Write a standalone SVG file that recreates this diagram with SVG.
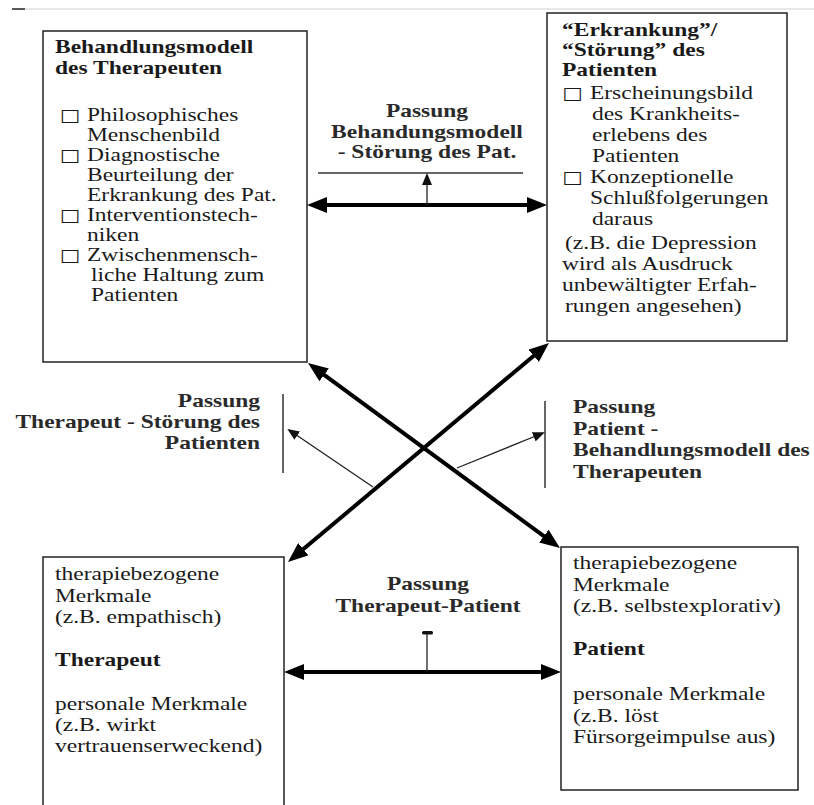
<svg xmlns="http://www.w3.org/2000/svg" width="814" height="805" viewBox="0 0 814 805">
<style>
.t{font-family:"Liberation Serif","Times New Roman",serif;font-size:18.5px;fill:#1a1a1a}
.b{font-weight:bold}
.lbl{font-family:"Liberation Serif","Times New Roman",serif;font-size:18.5px;font-weight:bold;fill:#2a2a2a}
.bul{font-family:"DejaVu Sans",sans-serif;font-size:17px;fill:#1a1a1a}
.box{fill:#fff;stroke:#222;stroke-width:1.5}
.thick{stroke:#000;stroke-width:4;fill:none}
.thin{stroke:#222;stroke-width:1.3;fill:none}
.rule{stroke:#333;stroke-width:1.5;fill:none}
</style>
<defs>
<marker id="big" viewBox="0 0 20 16" markerWidth="20" markerHeight="16" refX="8" refY="8" orient="auto-start-reverse" markerUnits="userSpaceOnUse">
<path d="M0,0 L20,8 L0,16 z" fill="#000"/>
</marker>
<marker id="small" viewBox="0 0 12 10" markerWidth="12" markerHeight="10" refX="10" refY="5" orient="auto" markerUnits="userSpaceOnUse">
<path d="M0,0 L12,5 L0,10 z" fill="#111"/>
</marker>
</defs>
<rect width="814" height="805" fill="#fff"/>
<line x1="25" y1="9" x2="814" y2="9" stroke="#d0d0d0" stroke-width="1"/>
<line x1="12" y1="9" x2="25" y2="9" stroke="#222" stroke-width="1.5"/>

<g id="node-behandlungsmodell">
<rect class="box" x="43" y="31" width="264" height="331"/>
<g transform="translate(55,0) scale(1.27,1)">
<text class="t b" x="0" y="53">Behandlungsmodell</text>
<text class="t b" x="0" y="74">des Therapeuten</text>
<text class="bul" x="3.5" y="121">□</text>
<text class="t" x="25.2" y="121">Philosophisches</text>
<text class="t" x="25.2" y="141">Menschenbild</text>
<text class="bul" x="3.5" y="161">□</text>
<text class="t" x="25.2" y="161">Diagnostische</text>
<text class="t" x="25.2" y="181">Beurteilung der</text>
<text class="t" x="25.2" y="201">Erkrankung des Pat.</text>
<text class="bul" x="3.5" y="221">□</text>
<text class="t" x="25.2" y="221">Interventionstech-</text>
<text class="t" x="25.2" y="241">niken</text>
<text class="bul" x="3.5" y="261">□</text>
<text class="t" x="25.2" y="261">Zwischenmensch-</text>
<text class="t" x="28.3" y="281">liche Haltung zum</text>
<text class="t" x="28.3" y="301">Patienten</text>
</g>
</g>

<g id="node-stoerung">
<rect class="box" x="547" y="13" width="240" height="328"/>
<g transform="translate(562,0) scale(1.27,1)">
<text class="t b" x="0" y="36">“Erkrankung”/</text>
<text class="t b" x="0" y="56">“Störung” des</text>
<text class="t b" x="0" y="76">Patienten</text>
<text class="bul" x="0" y="99">□</text>
<text class="t" x="22" y="99">Erscheinungsbild</text>
<text class="t" x="23.6" y="120">des Krankheits-</text>
<text class="t" x="23.6" y="141">erlebens des</text>
<text class="t" x="23.6" y="162">Patienten</text>
<text class="bul" x="0" y="183">□</text>
<text class="t" x="22" y="183">Konzeptionelle</text>
<text class="t" x="22" y="204">Schlußfolgerungen</text>
<text class="t" x="23.6" y="225">daraus</text>
<text class="t" x="2.4" y="249">(z.B. die Depression</text>
<text class="t" x="0" y="270">wird als Ausdruck</text>
<text class="t" x="0" y="291">unbewältigter Erfah-</text>
<text class="t" x="2.4" y="312">rungen angesehen)</text>
</g>
</g>

<g id="node-therapeut">
<path class="box" d="M43,810 L43,557 L284,557 L284,810"/>
<g transform="translate(55,0) scale(1.27,1)">
<text class="t" x="0" y="580">therapiebezogene</text>
<text class="t" x="0" y="602">Merkmale</text>
<text class="t" x="0" y="623">(z.B. empathisch)</text>
<text class="t b" x="0" y="666">Therapeut</text>
<text class="t" x="0" y="710">personale Merkmale</text>
<text class="t" x="0" y="731">(z.B. wirkt</text>
<text class="t" x="0" y="752">vertrauenserweckend)</text>
</g>
</g>

<g id="node-patient">
<rect class="box" x="561" y="547" width="237" height="243"/>
<g transform="translate(573,0) scale(1.27,1)">
<text class="t" x="0" y="569">therapiebezogene</text>
<text class="t" x="0" y="591">Merkmale</text>
<text class="t" x="0" y="612">(z.B. selbstexplorativ)</text>
<text class="t b" x="0" y="655">Patient</text>
<text class="t" x="0" y="700">personale Merkmale</text>
<text class="t" x="0" y="722">(z.B. löst</text>
<text class="t" x="0" y="743">Fürsorgeimpulse aus)</text>
</g>
</g>

<g id="connectors">
<line class="thick" x1="319" y1="205" x2="535" y2="205" marker-start="url(#big)" marker-end="url(#big)"/>
<line class="thick" x1="296" y1="672" x2="549" y2="672" marker-start="url(#big)" marker-end="url(#big)"/>
<line class="thick" x1="317.7" y1="370.1" x2="550.3" y2="540.9" marker-start="url(#big)" marker-end="url(#big)"/>
<line class="thick" x1="539.8" y1="350.7" x2="297.2" y2="554.3" marker-start="url(#big)" marker-end="url(#big)"/>
<line class="rule" x1="318" y1="173" x2="523" y2="173"/>
<line class="thin" x1="427" y1="205" x2="427" y2="175" marker-end="url(#small)"/>
<line class="thin" x1="427" y1="672" x2="427" y2="634"/>
<rect x="422" y="631" width="11" height="3.5" rx="1.5" fill="#111"/>
<line class="rule" x1="283" y1="394" x2="283" y2="473"/>
<line class="thin" x1="373" y1="487" x2="289" y2="430" marker-end="url(#small)"/>
<line class="rule" x1="545" y1="401" x2="545" y2="488"/>
<line class="thin" x1="457" y1="468" x2="543" y2="433" marker-end="url(#small)"/>
</g>

<g id="label-passung-modell-stoerung" transform="translate(427,0) scale(1.27,1)">
<text class="lbl" x="0" y="117" text-anchor="middle">Passung</text>
<text class="lbl" x="0" y="138" text-anchor="middle">Behandungsmodell</text>
<text class="lbl" x="0" y="158" text-anchor="middle">- Störung des Pat.</text>
</g>
<g id="label-passung-therapeut-stoerung" transform="translate(260,0) scale(1.27,1)">
<text class="lbl" x="0" y="407" text-anchor="end">Passung</text>
<text class="lbl" x="0" y="428" text-anchor="end">Therapeut - Störung des</text>
<text class="lbl" x="0" y="449" text-anchor="end">Patienten</text>
</g>
<g id="label-passung-patient-modell" transform="translate(573,0) scale(1.27,1)">
<text class="lbl" x="0" y="413">Passung</text>
<text class="lbl" x="0" y="435">Patient -</text>
<text class="lbl" x="0" y="456">Behandlungsmodell des</text>
<text class="lbl" x="0" y="478">Therapeuten</text>
</g>
<g id="label-passung-therapeut-patient" transform="translate(428,0) scale(1.27,1)">
<text class="lbl" x="0" y="590" text-anchor="middle">Passung</text>
<text class="lbl" x="0" y="612" text-anchor="middle">Therapeut-Patient</text>
</g>
</svg>
